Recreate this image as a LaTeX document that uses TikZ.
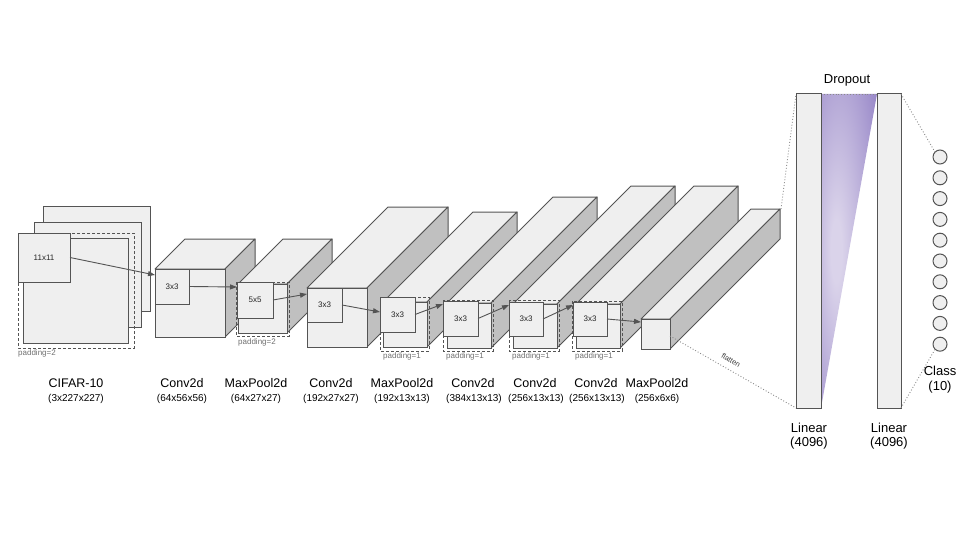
\documentclass[tikz,border=0pt]{standalone}
\usepackage{fontspec}
\setmainfont{Liberation Sans}
\usetikzlibrary{arrows.meta,calc}
\definecolor{facec}{HTML}{EFEFEF}
\definecolor{sidec}{HTML}{C0C0C0}
\definecolor{linec}{HTML}{545454}
\definecolor{padc}{HTML}{707070}
\definecolor{dotc}{HTML}{8A8A8A}
\definecolor{purpd}{HTML}{8E7CC3}
\definecolor{purpl}{HTML}{DAD3EA}
\pgfdeclareradialshading{dropshade}{\pgfpoint{-12bp}{0bp}}{color(0bp)=(purpl); color(5bp)=(purpl); color(46bp)=(purpd); color(100bp)=(purpd)}
\tikzset{
  ln/.style={draw=linec, line width=1pt},
  face/.style={ln, fill=facec, inner sep=0pt, outer sep=0pt},
  side/.style={ln, fill=sidec, line join=round},
  topf/.style={ln, fill=facec, line join=round},
  kbox/.style={face, anchor=north west, font=\fontsize{8}{9}\selectfont, text=black!85},
  pad/.style={draw=linec, line width=0.8pt, dash pattern=on 3pt off 2pt},
  padlbl/.style={font=\fontsize{8}{9}\selectfont, text=padc, anchor=north west, inner sep=0pt},
  arr/.style={draw=linec, line width=0.9pt, -{Triangle[length=7pt,width=5pt]}},
  dotl/.style={draw=dotc, line width=0.9pt, dotted},
  nameA/.style={font=\fontsize{12.5}{14}\selectfont},
  nameB/.style={font=\fontsize{10}{12}\selectfont},
  bigl/.style={font=\fontsize{13}{15}\selectfont},
  circ/.style={face, circle, minimum size=14pt},
}
\newcommand\mycube[6]{%
  \path[topf] (#2,#3) -- ++(#6,-#6) -- ({#4+#6},{#3-#6}) -- (#4,#3) -- cycle;
  \path[side] (#4,#3) -- ({#4+#6},{#3-#6}) -- ({#4+#6},{#5-#6}) -- (#4,#5) -- cycle;
  \node[face, anchor=north west, minimum width={#4-#2}, minimum height={#5-#3}] (#1) at (#2,#3) {};
}
\begin{document}
\begin{tikzpicture}[x=1pt,y=-1pt]
\useasboundingbox (0,0) rectangle (960,540);

% CIFAR input sheets
\node[face, anchor=north west, minimum width=107pt, minimum height=105pt] (s3) at (43,206) {};
\node[face, anchor=north west, minimum width=107pt, minimum height=105pt] (s2) at (34,222) {};
\node[face, anchor=north west, minimum width=105pt, minimum height=105pt] (s1) at (23,238) {};
\draw[pad] (18,233) rectangle (134,348);
\node[kbox, minimum width=52pt, minimum height=49pt] (k0) at (18,233) {11x11};
\node[padlbl] (pl0) at (18,350) {padding=2};

% feature maps
\mycube{c1}{155}{269}{225}{337}{30}
\node[kbox, minimum width=34pt, minimum height=35pt] (k1) at (155,269) {3x3};

\mycube{p1}{238}{284}{287}{333}{45}
\draw[pad] (236,282) rectangle (289,336);
\node[kbox, minimum width=36pt, minimum height=36pt] (k2) at (237,282) {5x5};
\node[padlbl] (pl1) at (238,339) {padding=2};

\mycube{c2}{307}{288}{367}{347}{81}
\node[kbox, minimum width=35pt, minimum height=34pt] (k3) at (307,288) {3x3};

\mycube{p2}{383}{302}{427}{347}{90}
\draw[pad] (380,297) rectangle (429,351);
\node[kbox, minimum width=35pt, minimum height=35pt] (k4) at (380,297) {3x3};
\node[padlbl] (pl2) at (383,353) {padding=1};

\mycube{c3}{447}{303}{491}{348}{106}
\draw[pad] (443,300) rectangle (493,351);
\node[kbox, minimum width=35pt, minimum height=35pt] (k5) at (443,301) {3x3};
\node[padlbl] (pl3) at (446,353) {padding=1};

\mycube{c4}{513}{304}{557}{348}{118}
\draw[pad] (509,300) rectangle (559,351);
\node[kbox, minimum width=34pt, minimum height=34pt] (k6) at (509,302) {3x3};
\node[padlbl] (pl4) at (512,353) {padding=1};

\mycube{c5}{576}{304}{620}{348}{118}
\draw[pad] (572,301) rectangle (622,351);
\node[kbox, minimum width=34pt, minimum height=34pt] (k7) at (573,302) {3x3};
\node[padlbl] (pl5) at (575,353) {padding=1};

\mycube{p3}{641}{319}{670}{349}{110}

% arrow targets
\coordinate (t0) at (155,275);
\coordinate (t1) at (237,287);
\coordinate (t2) at (307,294);
\coordinate (t3) at (380,312);
\coordinate (t4) at (443,304);
\coordinate (t5) at (509,305);
\coordinate (t6) at (573,305);
\coordinate (t7) at (641,322);
\draw[arr] (k0.east) -- (t0);
\draw[arr] (k1.east) -- (t1);
\draw[arr] (k2.east) -- (t2);
\draw[arr] (k3.east) -- (t3);
\draw[arr] (k4.east) -- (t4);
\draw[arr] (k5.east) -- (t5);
\draw[arr] (k6.east) -- (t6);
\draw[arr] (k7.east) -- (t7);

% dropout shape and linear layers
\shade[shading=dropshade] (821,94) -- (877,94) -- (821,408) -- cycle;
\draw[dotl, line width=0.6pt] (821,94) -- (877,94);
\node[face, anchor=north west, minimum width=25pt, minimum height=314pt] (L1) at (796,94) {};
\node[face, anchor=north west, minimum width=24pt, minimum height=314pt] (L2) at (877,94) {};
\node[bigl] (dr) at (847,80) {Dropout};

% class circles
\foreach \i in {1,...,10} {
  \node[circ] (o\i) at (940,{157+(\i-1)*20.8}) {};
}

% dotted connectors
\coordinate (pb) at (781,209);
\coordinate (pf) at (670,336);
\draw[dotl] (pb) -- (L1.north west);
\draw[dotl] (pf) -- (L1.south west);
\draw[dotl] (L2.north east) -- (o1.north west);
\draw[dotl] (L2.south east) -- (o10.south west);
\node[font=\fontsize{7.5}{8}\selectfont, text=black!75, rotate=-30] (fl) at (731,360) {flatten};

% layer labels
\node[nameA] (nA1) at (76,383) {CIFAR-10};
\node[nameB] (nB1) at (76,399) {(3x227x227)};
\node[nameA] (nA2) at (182,383) {Conv2d};
\node[nameB] (nB2) at (182,399) {(64x56x56)};
\node[nameA] (nA3) at (256,383) {MaxPool2d};
\node[nameB] (nB3) at (256,399) {(64x27x27)};
\node[nameA] (nA4) at (331,383) {Conv2d};
\node[nameB] (nB4) at (331,399) {(192x27x27)};
\node[nameA] (nA5) at (402,383) {MaxPool2d};
\node[nameB] (nB5) at (402,399) {(192x13x13)};
\node[nameA] (nA6) at (473,383) {Conv2d};
\node[nameB] (nB6) at (474,399) {(384x13x13)};
\node[nameA] (nA7) at (535,383) {Conv2d};
\node[nameB] (nB7) at (536,399) {(256x13x13)};
\node[nameA] (nA8) at (596,383) {Conv2d};
\node[nameB] (nB8) at (597,399) {(256x13x13)};
\node[nameA] (nA9) at (657,383) {MaxPool2d};
\node[nameB] (nB9) at (657,399) {(256x6x6)};

\node[bigl] (lin1) at (809,428) {Linear};
\node[bigl] (lin1b) at (809,443) {(4096)};
\node[bigl] (lin2) at (889,428) {Linear};
\node[bigl] (lin2b) at (889,443) {(4096)};
\node[bigl] (cls) at (940,371) {Class};
\node[bigl] (clsb) at (940,387) {(10)};
\end{tikzpicture}
\end{document}
